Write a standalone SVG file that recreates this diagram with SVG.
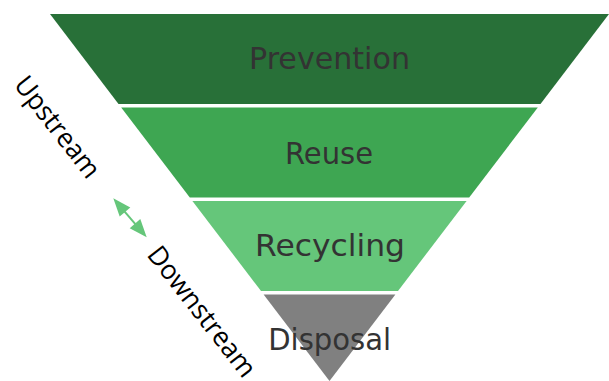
<svg xmlns="http://www.w3.org/2000/svg" width="609" height="381" viewBox="0 0 609 381">
  <style>
    .lbl { font-family: "DejaVu Sans", "Liberation Sans", sans-serif; font-size: 30px; fill: #333333; text-anchor: middle; }
    .side { font-family: "Open Sans", "Noto Sans", "DejaVu Sans", sans-serif; font-size: 27px; fill: #000000; }
    .arr { fill: #65c67a; }
  </style>
  <rect width="609" height="381" fill="#ffffff"/>
  <g id="prevention">
    <polygon points="50,14 609,14 540.5,104 118.5,104" fill="#287038"/>
    <text class="lbl" x="329.5" y="69.3" textLength="161" lengthAdjust="spacingAndGlyphs">Prevention</text>
  </g>
  <g id="reuse">
    <polygon points="121.2,107.5 537.8,107.5 469.2,197.5 189.8,197.5" fill="#3ea652"/>
    <text class="lbl" x="329" y="164" textLength="88" lengthAdjust="spacingAndGlyphs">Reuse</text>
  </g>
  <g id="recycling">
    <polygon points="192.4,201 466.6,201 398,291 261,291" fill="#65c67a"/>
    <text class="lbl" x="330" y="256.3" textLength="150" lengthAdjust="spacingAndGlyphs">Recycling</text>
  </g>
  <g id="disposal">
    <polygon points="263.6,294.5 395.4,294.5 329.5,381" fill="#808080"/>
    <text class="lbl" x="329.7" y="350" textLength="123" lengthAdjust="spacingAndGlyphs">Disposal</text>
  </g>
  <g id="upstream">
    <text class="side" transform="translate(13,85) rotate(52)" textLength="121" lengthAdjust="spacingAndGlyphs">Upstream</text>
  </g>
  <g id="downstream">
    <text class="side" transform="translate(146,255) rotate(52)" textLength="158" lengthAdjust="spacingAndGlyphs">Downstream</text>
  </g>
  <g id="connectors">
    <line x1="124" y1="210.8" x2="136" y2="224.8" stroke="#65c67a" stroke-width="2"/>
    <polygon class="arr" points="113.3,198.3 119.7,216.5 130.3,207.4"/>
    <polygon class="arr" points="146.7,237.3 129.7,228.2 140.3,219.1"/>
  </g>
</svg>
